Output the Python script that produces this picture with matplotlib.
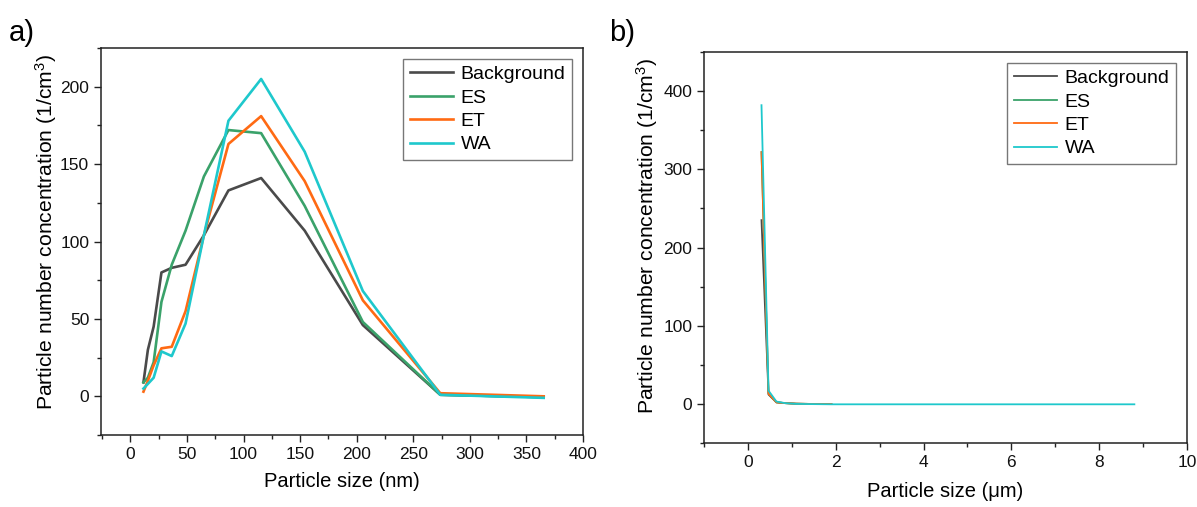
import matplotlib
matplotlib.use("Agg")
import matplotlib.pyplot as plt
from matplotlib.ticker import MultipleLocator

plt.rcParams['font.family'] = ['Liberation Sans', 'DejaVu Sans']
plt.rcParams['mathtext.fontset'] = 'custom'
plt.rcParams['mathtext.rm'] = 'Liberation Sans'
plt.rcParams['mathtext.it'] = 'Liberation Sans:italic'

# ---------------- data ----------------
series_names = ["Background", "ES", "ET", "WA"]
series_colors = ["#4a4a4a", "#3aa26a", "#ff6a13", "#1ec8cc"]

# panel a: particle size (nm)
size_nm = [11.5, 15.4, 20.5, 27.4, 36.5, 48.7, 64.9, 86.6, 115.5, 154.0, 205.4, 273.8, 365.2]
bg_nm = [9, 30, 45, 80, 83, 85, 104, 133, 141, 107, 46, 1, -0.5]
es_nm = [9, 12, 22, 61, 85, 107, 142, 172, 170, 123, 48, 1, -0.5]
et_nm = [3, 10, 20, 31, 32, 55, 104, 163, 181, 139, 62, 2, 0]
wa_nm = [5, 8, 12, 29, 26, 47, 104, 178, 205, 158, 68, 1, -1]

# panel b: particle size (um)
size_um = [0.31, 0.47, 0.65, 0.85, 1.1, 1.4, 1.9]
bg_um = [235, 12, 2, 1, 0.3, 0, 0]
es_um = [322, 13, 2, 1, 0.3, 0, 0]
et_um = [322, 13, 2, 1, 0.3, 0, 0]
size_um_wa = [0.31, 0.47, 0.65, 0.85, 1.1, 1.9, 8.8]
wa_um = [382, 17, 3, 1, 0, -0.5, -0.5]

fig = plt.figure(figsize=(11.97, 5.07), dpi=100)

TICK_FS = 12.5
LABEL_FS = 14.5
YLABEL_FS = 15.2
LEG_FS = 14


def style_axes(ax):
    ax.tick_params(axis='both', which='both', direction='out', top=False, right=False,
                   labelsize=TICK_FS, color='#222222', labelcolor='#111111')
    ax.tick_params(which='major', length=5, width=1)
    ax.tick_params(which='minor', length=3, width=1)
    for s in ax.spines.values():
        s.set_linewidth(1.1)
        s.set_color('#222222')


def make_legend(ax):
    leg = ax.legend(loc='upper right', fontsize=LEG_FS, fancybox=False, framealpha=1,
                    edgecolor='#777777', handlelength=2.2, handletextpad=0.4,
                    borderaxespad=0.55, labelspacing=0.3, borderpad=0.35)
    leg.get_frame().set_linewidth(1.0)
    return leg


# ---------------- panel a ----------------
ax1 = fig.add_axes([0.0844, 0.142, 0.4027, 0.7633])
for name, col, ys in zip(series_names, series_colors, [bg_nm, es_nm, et_nm, wa_nm]):
    ax1.plot(size_nm, ys, color=col, lw=1.9, label=name)
ax1.set_xlim(-26, 400)
ax1.set_ylim(-25, 225)
ax1.xaxis.set_major_locator(MultipleLocator(50))
ax1.xaxis.set_minor_locator(MultipleLocator(25))
ax1.yaxis.set_major_locator(MultipleLocator(50))
ax1.yaxis.set_minor_locator(MultipleLocator(25))
style_axes(ax1)
ax1.set_xlabel("Particle size (nm)", fontsize=LABEL_FS, labelpad=7)
ax1.set_ylabel("Particle number concentration (1/cm$^3$)", fontsize=YLABEL_FS)
ax1.yaxis.set_label_coords(-0.087, 0.525)
make_legend(ax1)
fig.text(0.007, 0.935, "a)", fontsize=21, ha='left', va='center')

# ---------------- panel b ----------------
ax2 = fig.add_axes([0.5881, 0.1262, 0.4036, 0.7712])
for name, col, xs, ys in zip(series_names, series_colors,
                             [size_um, size_um, size_um, size_um_wa],
                             [bg_um, es_um, et_um, wa_um]):
    ax2.plot(xs, ys, color=col, lw=1.3, label=name)
ax2.set_xlim(-1, 10)
ax2.set_ylim(-50, 450)
ax2.xaxis.set_major_locator(MultipleLocator(2))
ax2.xaxis.set_minor_locator(MultipleLocator(1))
ax2.yaxis.set_major_locator(MultipleLocator(100))
ax2.yaxis.set_minor_locator(MultipleLocator(50))
style_axes(ax2)
ax2.set_xlabel("Particle size (μm)", fontsize=LABEL_FS, labelpad=9)
ax2.set_ylabel("Particle number concentration (1/cm$^3$)", fontsize=YLABEL_FS)
ax2.yaxis.set_label_coords(-0.09, 0.53)
make_legend(ax2)
fig.text(0.509, 0.935, "b)", fontsize=21, ha='left', va='center')

fig.savefig("out.png", dpi=100)
